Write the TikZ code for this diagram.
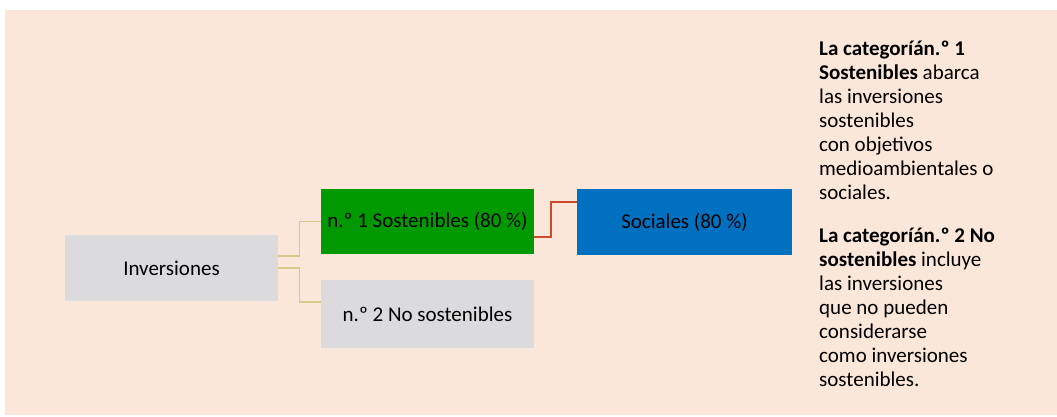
\documentclass[tikz,border=0pt]{standalone}
\usepackage{fontspec}
\setmainfont{Carlito}
\definecolor{bg}{HTML}{FBE7DA}
\definecolor{boxgray}{HTML}{DBDBDD}
\definecolor{boxgreen}{HTML}{009900}
\definecolor{boxblue}{HTML}{0070C0}
\definecolor{tanline}{HTML}{D8CB8A}
\definecolor{redline}{HTML}{CC4A2E}
\begin{document}
\begin{tikzpicture}[x=1pt,y=-1pt,
  box/.style={rectangle, inner sep=0pt, minimum width=213pt, font=\fontsize{21}{24}\selectfont, text=black},
  conn/.style={tanline, line width=1.5pt},
  connred/.style={redline, line width=2pt},
  desc/.style={anchor=north west, inner sep=0pt, align=left, font=\fontsize{21}{24}\selectfont}]
\useasboundingbox (0,0) rectangle (1057,416);
\fill[white] (0,0) rectangle (1057,416);
\fill[bg] (5,10) rectangle (1057,415);
\node[box, fill=boxgray, minimum height=66pt] (inv) at (171.5,268) {Inversiones};
\node[box, fill=boxgreen, minimum height=65pt] (sost) at (427.5,221.5) {n.º 1 Sostenibles (80~\%)};
\node[box, fill=boxgray, minimum height=68pt] (nosost) at (427.5,314) {n.º 2 No sostenibles};
\node[box, fill=boxblue, minimum width=215pt, minimum height=66pt] (soc) at (684.5,222) {Sociales (80~\%)};
\draw[conn] ([yshift=12pt]inv.east) -- ++(21.5,0) |- (sost.west);
\draw[conn] (inv.east) -- ++(21.5,0) |- ([yshift=12pt]nosost.west);
\draw[connred] ([yshift=-15.5pt]sost.east) -- ++(16.5,0) |- ([yshift=20pt]soc.west);
\node[desc] (d1) at (819,41) {\textbf{La categoríán.º 1}\\\textbf{Sostenibles} abarca\\las inversiones\\sostenibles\\con objetivos\\medioambientales o\\sociales.};
\node[desc] (d2) at (819,228) {\textbf{La categoríán.º 2 No}\\\textbf{sostenibles} incluye\\las inversiones\\que no pueden\\considerarse\\como inversiones\\sostenibles.};
\end{tikzpicture}
\end{document}
